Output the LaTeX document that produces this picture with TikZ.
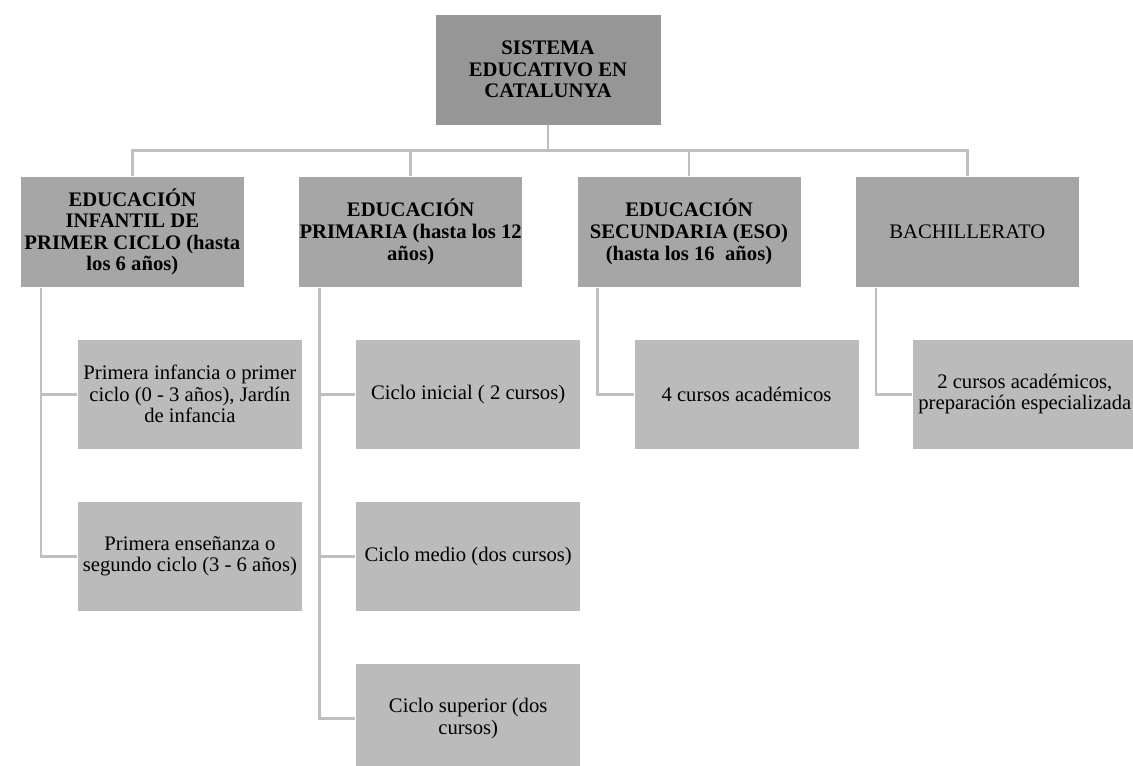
\documentclass[tikz,border=0pt]{standalone}
\usepackage{fontspec}
\setmainfont{Liberation Serif}
\usetikzlibrary{positioning, calc}
\definecolor{topgray}{RGB}{150,150,150}
\definecolor{levelgray}{RGB}{166,166,166}
\definecolor{cyclegray}{RGB}{187,187,187}
\definecolor{linkgray}{RGB}{191,191,191}

\begin{document}
\begin{tikzpicture}[
      root/.style={
        rectangle, fill=topgray, draw=white, line width=0.6pt,
        minimum width=169.5pt, minimum height=83.25pt,
        inner xsep=0pt, inner ysep=1pt, align=center, font=\fontsize{15.5}{16.2}\selectfont\bfseries
      },
      level/.style={
        rectangle, fill=levelgray, draw=white, line width=0.6pt,
        minimum width=168pt, minimum height=83.25pt,
        inner xsep=0pt, inner ysep=1pt, align=center, font=\fontsize{15.5}{16.2}\selectfont\bfseries
      },
      cycle/.style={
        rectangle, fill=cyclegray, draw=white, line width=0.6pt,
        minimum width=168.75pt, minimum height=82.5pt,
        inner xsep=0pt, inner ysep=1pt, align=center, font=\fontsize{15.5}{16.2}\selectfont
      },
      link/.style={draw=linkgray, line width=2pt}
    ]
      \useasboundingbox (0,0) rectangle (849.75pt,-574.5pt);
      % --- Top: the whole system ---
      \node[root] (sistema) at (411pt,-52.125pt) {SISTEMA\\EDUCATIVO EN\\CATALUNYA};
      % --- Row 1: the four stages ---
      \node[level, anchor=north west] (infantil) at (15pt,-132pt)
        {EDUCACIÓN\\INFANTIL DE\\PRIMER CICLO (hasta\\los 6 años)};
      \node[level, right=40.125pt of infantil] (primaria)
        {EDUCACIÓN\\PRIMARIA (hasta los 12\\años)};
      \node[level, right=40.125pt of primaria] (secundaria)
        {EDUCACIÓN\\SECUNDARIA (ESO)\\(hasta los 16~ años)};
      \node[level, right=40.125pt of secundaria, font=\fontsize{15.5}{16.2}\selectfont] (bachillerato)
        {BACHILLERATO};
      % --- Row 2: cycles under each stage ---
      \node[cycle, below right=38.25pt and 42.75pt of infantil.south west] (infancia)
        {Primera infancia o primer\\ciclo (0 - 3 años), Jardín\\de infancia};
      \node[cycle, below=38.6pt of infancia] (ensenanza)
        {Primera enseñanza o\\segundo ciclo (3 - 6 años)};
      \node[cycle, below right=38.25pt and 42.75pt of primaria.south west] (inicial)
        {Ciclo inicial ( 2 cursos)};
      \node[cycle, below=38.6pt of inicial] (medio)
        {Ciclo medio (dos cursos)};
      \node[cycle, below=38.6pt of medio] (superior)
        {Ciclo superior (dos\\cursos)};
      \node[cycle, below right=38.25pt and 42.75pt of secundaria.south west] (eso)
        {4 cursos académicos};
      \node[cycle, below right=38.25pt and 42.75pt of bachillerato.south west] (bach)
        {2 cursos académicos,\\preparación especializada};
      % --- Connectors: root down to a bus, bus down to each stage ---
      \coordinate (bus) at ($(sistema.south)!0.5!(sistema.south |- infantil.north)$);
      \draw[link] (sistema.south) -- (bus);
      \foreach \n in {infantil,primaria,secundaria,bachillerato}
        \draw[link] (bus) -| (\n.north);
      % --- Connectors: stage to its cycles, elbow into west side ---
      \draw[link] ([xshift=15.75pt]infantil.south west) |- (infancia.west);
      \draw[link] ([xshift=15.75pt]infantil.south west) |- (ensenanza.west);
      \draw[link] ([xshift=15.75pt]primaria.south west) |- (inicial.west);
      \draw[link] ([xshift=15.75pt]primaria.south west) |- (medio.west);
      \draw[link] ([xshift=15.75pt]primaria.south west) |- (superior.west);
      \draw[link] ([xshift=15.75pt]secundaria.south west) |- (eso.west);
      \draw[link] ([xshift=15.75pt]bachillerato.south west) |- (bach.west);
    \end{tikzpicture}
\end{document}
